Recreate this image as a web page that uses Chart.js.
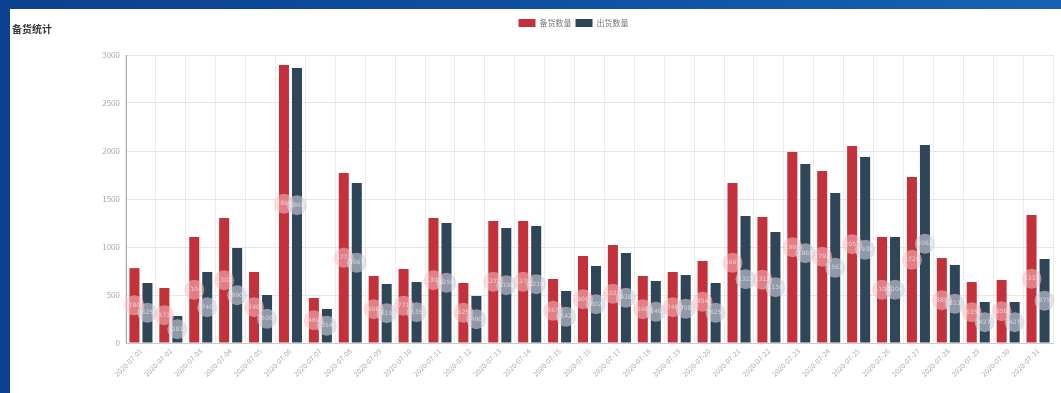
<!DOCTYPE html>
<html>
<head>
<meta charset="utf-8">
<script src="https://cdn.jsdelivr.net/npm/chart.js@4.4.0/dist/chart.umd.min.js"></script>
<style>
  html, body { margin: 0; padding: 0; }
  body { width: 1061px; height: 393px; background: linear-gradient(90deg, #0b418f 0%, #0f4fa0 50%, #1762b4 100%); position: relative; overflow: hidden; }
  #panel { position: absolute; left: 10px; top: 9px; width: 1051px; height: 384px; background: #fff; }
  #title { position: absolute; left: 2px; top: 12px; font: bold 10px "Noto Sans CJK SC", sans-serif; color: #3a3a3a; }
  #bar-chart { position: absolute; left: 0; top: 0; }
</style>
</head>
<body>
<div id="panel">
  <canvas id="bar-chart" width="1051" height="384"></canvas>
  <div id="title">备货统计</div>
</div>
<script>
var labs = [];
for (var d = 1; d <= 31; d++) {
	labs.push("2020-07-" + (d < 10 ? "0" + d : d));
}
var seriesNames = ["备货数量", "出货数量"];
var beihuo = [780, 573, 1104, 1302, 740, 2896, 469, 1771, 698, 771, 1302, 625, 1271, 1271, 667, 906,
	1021, 698, 740, 854, 1667, 1313, 1990, 1792, 2052, 1104, 1729, 885, 635, 656, 1333];
var chuhuo = [625, 281, 740, 990, 500, 2865, 354, 1667, 615, 635, 1250, 490, 1198, 1219, 542, 802,
	938, 646, 708, 625, 1323, 1156, 1865, 1563, 1938, 1104, 2063, 813, 427, 427, 875];
var yTicks = [0, 500, 1000, 1500, 2000, 2500, 3000];

var colores = ["#c4313a", "#2f4558"];
var burbujas = ["rgba(255, 190, 195, 0.55)", "rgba(208, 210, 220, 0.6)"];

// circulo con el valor a media altura de cada barra
var etiquetas = {
	id: "etiquetas",
	afterDatasetsDraw: function (chart) {
		var ctx = chart.ctx;
		ctx.save();
		chart.data.datasets.forEach(function (ds, i) {
			chart.getDatasetMeta(i).data.forEach(function (bar, j) {
				var cy = (bar.y + bar.base) / 2;
				ctx.beginPath();
				ctx.arc(bar.x, cy, 10, 0, Math.PI * 2);
				ctx.fillStyle = burbujas[i];
				ctx.fill();
				ctx.fillStyle = "rgba(255,255,255,0.6)";
				ctx.font = "6px 'DejaVu Sans'";
				ctx.textAlign = "center";
				ctx.textBaseline = "middle";
				ctx.fillText(ds.data[j], bar.x, cy);
			});
		});
		ctx.restore();
	}
};

// alto fijo para la leyenda
var leyendaAlta = {
	id: "leyendaAlta",
	beforeInit: function (chart) {
		var fit = chart.legend.fit;
		chart.legend.fit = function () {
			fit.bind(this)();
			this.height = 40;
		};
	}
};

Chart.defaults.font.family = "'Noto Sans CJK SC', 'DejaVu Sans', sans-serif";

var ctx1 = document.getElementById("bar-chart").getContext("2d");
var myChart1 = new Chart(ctx1, {
	type: "bar",
	data: {
		labels: labs,
		datasets: [{
			label: seriesNames[0],
			backgroundColor: colores[0],
			data: beihuo
		}, {
			label: seriesNames[1],
			backgroundColor: colores[1],
			data: chuhuo
		}]
	},
	options: {
		responsive: false,
		animation: false,
		layout: { padding: { top: 6, right: 8, left: 84, bottom: 0 } },
		categoryPercentage: 0.87,
		barPercentage: 0.77,
		plugins: {
			tooltip: { enabled: false },
			legend: {
				position: "top",
				labels: {
					boxWidth: 17,
					boxHeight: 8,
					padding: 4,
					color: "#777",
					font: { size: 8 }
				}
			}
		},
		scales: {
			x: {
				grid: { color: "#ececec", drawTicks: false },
				border: { color: "#ccc" },
				ticks: {
					color: "#aaa",
					font: { size: 7 },
					minRotation: 45,
					maxRotation: 45,
					autoSkip: false,
					padding: 4
				},
				afterFit: function (s) { s.height = 50; }
			},
			y: {
				min: 0,
				max: 3000,
				afterBuildTicks: function (s) {
					s.ticks = yTicks.map(function (v) { return { value: v }; });
				},
				grid: { color: "#e6e6e6", drawTicks: false },
				border: { color: "#aaa" },
				ticks: {
					color: "#aaa",
					font: { size: 8 },
					padding: 6,
					callback: function (v) { return String(v); }
				},
				afterFit: function (s) { s.width = 32; }
			}
		}
	},
	plugins: [etiquetas, leyendaAlta]
});
</script>
</body>
</html>
